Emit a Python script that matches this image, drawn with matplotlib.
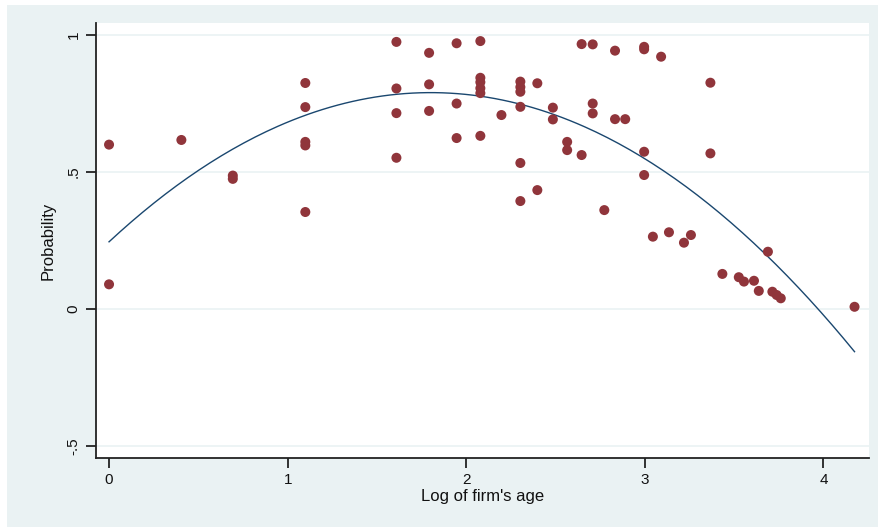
import numpy as np
import matplotlib
matplotlib.use("Agg")
import matplotlib.pyplot as plt
from matplotlib.patches import Rectangle

# Scatter data: log of firm's age vs. probability
log_age = [0.0, 0.0, 0.405, 0.693, 0.693,
           1.099, 1.099, 1.099, 1.099, 1.099,
           1.609, 1.609, 1.609, 1.609,
           1.792, 1.792, 1.792,
           1.946, 1.946, 1.946,
           2.079, 2.079, 2.079, 2.079, 2.079, 2.079,
           2.197,
           2.303, 2.303, 2.303, 2.303, 2.303, 2.303,
           2.398, 2.398,
           2.485, 2.485,
           2.565, 2.565,
           2.646, 2.646, 2.708, 2.708, 2.708,
           2.773, 2.833, 2.833, 2.890,
           2.996, 2.996, 2.996, 2.996,
           3.045, 3.091, 3.135, 3.219, 3.258,
           3.367, 3.367,
           3.434, 3.526, 3.555, 3.611, 3.638, 3.689, 3.714, 3.738, 3.761,
           4.174]
prob = [0.60, 0.09, 0.617, 0.487, 0.475,
        0.825, 0.737, 0.61, 0.597, 0.354,
        0.975, 0.805, 0.715, 0.552,
        0.935, 0.82, 0.723,
        0.97, 0.75, 0.624,
        0.978, 0.844, 0.828, 0.806, 0.788, 0.632,
        0.708,
        0.83, 0.81, 0.793, 0.738, 0.533, 0.394,
        0.824, 0.434,
        0.735, 0.692,
        0.61, 0.58,
        0.967, 0.562, 0.966, 0.75, 0.714,
        0.361, 0.943, 0.693, 0.693,
        0.957, 0.948, 0.574, 0.489,
        0.264, 0.921, 0.28, 0.242, 0.27,
        0.826, 0.568,
        0.128, 0.116, 0.10, 0.103, 0.066, 0.209, 0.063, 0.051, 0.039,
        0.008]

x_ticks = [0, 1, 2, 3, 4]
y_ticks = [-0.5, 0, 0.5, 1]
y_tick_labels = ["-.5", "0", ".5", "1"]

bg = "#eaf2f3"
marker_col = "#90353b"
line_col = "#1a476f"

plt.rcParams["font.family"] = ["Liberation Sans", "DejaVu Sans"]

fig = plt.figure(figsize=(8.79, 5.27), dpi=100)
fig.patch.set_facecolor("white")
# Stata-style outer graph region
fig.patches.append(Rectangle((7 / 879, 0), 1, 1 - 5 / 527, transform=fig.transFigure,
                             facecolor=bg, edgecolor="none", zorder=-10))

ax = fig.add_axes([96 / 879, 69 / 527, 773 / 879, 435 / 527])
ax.set_facecolor("white")

# quadratic fit (qfit) of the scatter
x = np.array(log_age)
y = np.array(prob)
coef = np.polyfit(x, y, 2)
xs = np.linspace(x.min(), x.max(), 200)
ax.plot(xs, np.polyval(coef, xs), color=line_col, lw=1.0, zorder=2)

ax.scatter(x, y, s=52, color=marker_col, edgecolors="none", zorder=3)

ax.set_xlim(-0.073, 4.255)
ax.set_ylim(-0.544, 1.044)
ax.set_xticks(x_ticks)
ax.set_yticks(y_ticks)
ax.set_yticklabels(y_tick_labels, rotation=90, va="center")
ax.grid(axis="y", color=bg, lw=1.2)
ax.set_axisbelow(True)

for s in ["top", "right"]:
    ax.spines[s].set_visible(False)
for s in ["left", "bottom"]:
    ax.spines[s].set_color("#222222")
    ax.spines[s].set_linewidth(1.3)
ax.tick_params(axis="both", direction="out", length=7, width=1.3, color="#222222",
               labelsize=11, pad=4, labelcolor="#111111")

ax.set_xlabel("Log of firm's age", fontsize=12, labelpad=1, color="#111111")
ax.set_ylabel("Probability", fontsize=12, labelpad=8, color="#111111")

fig.savefig("out.png", dpi=100, facecolor=fig.get_facecolor())
